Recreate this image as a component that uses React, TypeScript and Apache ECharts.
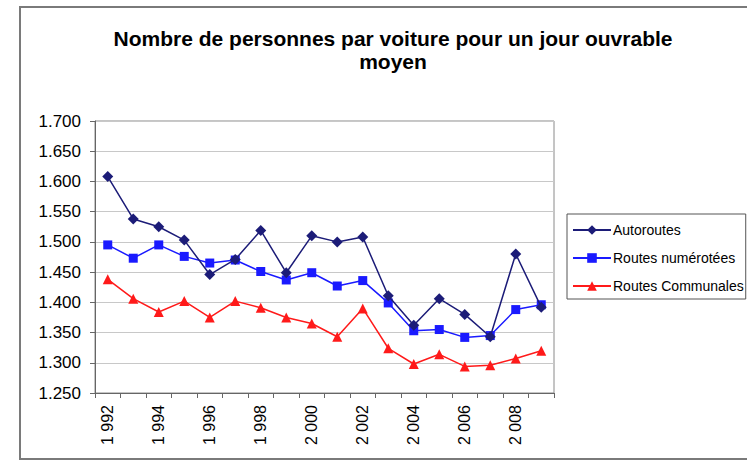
import React, { useEffect, useRef } from "react";
import * as echarts from "echarts";

const years = ["1992","1993","1994","1995","1996","1997","1998","1999","2000","2001","2002","2003","2004","2005","2006","2007","2008","2009"];
const autoroutes = [1.608,1.538,1.525,1.503,1.446,1.471,1.519,1.449,1.510,1.500,1.508,1.411,1.362,1.406,1.380,1.343,1.480,1.392];
const routesNumerotees = [1.495,1.473,1.495,1.476,1.465,1.470,1.451,1.437,1.449,1.427,1.436,1.399,1.353,1.355,1.342,1.345,1.388,1.396];
const routesCommunales = [1.438,1.406,1.384,1.402,1.375,1.402,1.391,1.375,1.365,1.343,1.390,1.324,1.298,1.314,1.294,1.296,1.307,1.320];
const seriesNames = ["Autoroutes", "Routes numérotées", "Routes Communales"];
const titleText = "Nombre de personnes par voiture pour un jour ouvrable\nmoyen";

export default function App() {
  const ref = useRef<HTMLDivElement>(null);
  useEffect(() => {
    if (!ref.current) return;
    const chart = echarts.init(ref.current, null, { renderer: "svg" });
    const font = "'Liberation Sans', Arial, sans-serif";
    chart.setOption({
      animation: false,
      backgroundColor: "#ffffff",
      textStyle: { fontFamily: font, color: "#000" },
      graphic: [
        {
          type: "rect",
          shape: { x: 20, y: 7, width: 740, height: 452 },
          style: { fill: "none", stroke: "#7a7a7a", lineWidth: 2 },
          silent: true,
        },
      ],
      title: {
        text: titleText,
        left: 388,
        textAlign: "center",
        top: 22,
        textStyle: { fontFamily: font, fontSize: 21, fontWeight: "bold", color: "#000", lineHeight: 23 },
      },
      legend: {
        orient: "vertical",
        left: 567,
        top: 214,
        padding: [9, 2, 6, 5],
        itemGap: 14,
        itemWidth: 38,
        itemHeight: 12,
        borderColor: "#555",
        borderWidth: 1,
        textStyle: { fontFamily: font, fontSize: 14, color: "#000", padding: [0, 0, 0, -3] },
        data: seriesNames,
      },
      grid: {
        left: 95,
        top: 121,
        right: 193,
        bottom: 68,
        show: true,
        borderColor: "#8a8a8a",
        borderWidth: 1,
        containLabel: false,
        outerBoundsMode: "none",
      },
      xAxis: {
        type: "category",
        data: years,
        boundaryGap: true,
        axisLine: { lineStyle: { color: "#666", width: 1 } },
        axisTick: { show: true, interval: 0, alignWithLabel: false, length: 5, lineStyle: { color: "#666" } },
        axisLabel: {
          interval: 1,
          rotate: 90,
          margin: 12,
          fontSize: 16,
          fontFamily: font,
          color: "#000",
          formatter: (v: string) => v.slice(0, 1) + " " + v.slice(1),
        },
        splitLine: { show: false },
      },
      yAxis: {
        type: "value",
        min: 1.25,
        max: 1.7,
        interval: 0.05,
        axisLine: { show: true, lineStyle: { color: "#666", width: 1 } },
        axisTick: { show: true, length: 5, lineStyle: { color: "#666" } },
        axisLabel: {
          fontSize: 17,
          fontFamily: font,
          color: "#000",
          margin: 14,
          formatter: (v: number) => v.toFixed(3),
        },
        splitLine: { show: true, lineStyle: { color: "#c8c8c8", width: 1 } },
      },
      series: [
        {
          name: seriesNames[0],
          type: "line",
          data: autoroutes,
          symbol: "diamond",
          symbolSize: 11,
          color: "#1c1c78",
          lineStyle: { color: "#1c1c78", width: 1.5 },
          itemStyle: { color: "#1c1c78" },
          z: 3,
        },
        {
          name: seriesNames[1],
          type: "line",
          data: routesNumerotees,
          symbol: "rect",
          symbolSize: 9,
          color: "#1a1aff",
          lineStyle: { color: "#1a1aff", width: 1.5 },
          itemStyle: { color: "#1a1aff" },
          z: 2,
        },
        {
          name: seriesNames[2],
          type: "line",
          data: routesCommunales,
          symbol: "triangle",
          symbolSize: 10,
          color: "#ff1a1a",
          lineStyle: { color: "#ff1a1a", width: 1.5 },
          itemStyle: { color: "#ff1a1a" },
          z: 2,
        },
      ],
    });
    return () => chart.dispose();
  }, []);
  return <div ref={ref} style={{ width: 747, height: 461, position: "absolute", left: 0, top: 0 }} />;
}
